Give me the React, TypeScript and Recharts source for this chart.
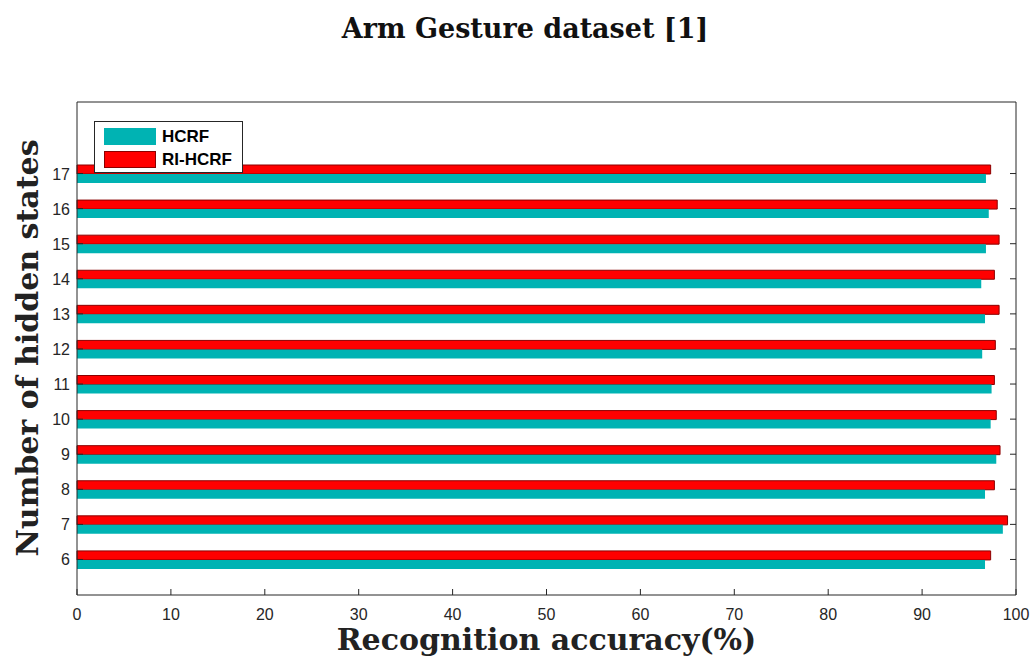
import React from 'react';
import { BarChart, Bar, XAxis, YAxis } from 'recharts';

// hidden states (bottom to top as in the figure)
const states = [6, 7, 8, 9, 10, 11, 12, 13, 14, 15, 16, 17];
const hcrf = [96.7, 98.6, 96.7, 97.9, 97.3, 97.4, 96.4, 96.7, 96.3, 96.8, 97.1, 96.8];
const riHcrf = [97.3, 99.1, 97.7, 98.3, 97.9, 97.7, 97.8, 98.2, 97.7, 98.2, 98.0, 97.3];
const xTicks = [0, 10, 20, 30, 40, 50, 60, 70, 80, 90, 100];

const TEAL = '#00B3B3';
const RED = '#FF0000';
const AXIS = '#262626';
const SANS = '"Liberation Sans", Arial, sans-serif';
const SERIF = '"DejaVu Serif", serif';

// first row in vertical layout is drawn at the top, so 17 goes first
const data = states
  .map((s, i) => ({ n: String(s), hcrf: hcrf[i], ri: riHcrf[i] }))
  .reverse();

// matlab style ticks: short marks pointing into the plot box
const BottomTick = (p: any) => (
  <g>
    <line x1={p.x} y1={p.y} x2={p.x} y2={p.y - 6} stroke={AXIS} />
    <text x={p.x} y={p.y + 25} textAnchor="middle" fontSize={16} fontFamily={SANS} fill={AXIS}>
      {p.payload.value}
    </text>
  </g>
);
const TopTick = (p: any) => <line x1={p.x} y1={p.y} x2={p.x} y2={p.y + 6} stroke={AXIS} />;
const LeftTick = (p: any) => (
  <g>
    <line x1={p.x} y1={p.y} x2={p.x + 6} y2={p.y} stroke={AXIS} />
    <text x={p.x - 7} y={p.y + 6} textAnchor="end" fontSize={16} fontFamily={SANS} fill={AXIS}>
      {p.payload.value}
    </text>
  </g>
);
const RightTick = (p: any) => <line x1={p.x} y1={p.y} x2={p.x - 6} y2={p.y} stroke={AXIS} />;

function LegendBox() {
  const item = (color: string, border: string, text: string) => (
    <div style={{ display: 'flex', alignItems: 'center', height: 23 }}>
      <div style={{ width: 52, height: 17, background: color, border: `1px solid ${border}`, boxSizing: 'border-box' }} />
      <span style={{ marginLeft: 6, fontSize: 17, fontWeight: 'bold', fontFamily: SANS, color: '#000' }}>{text}</span>
    </div>
  );
  return (
    <div style={{ position: 'absolute', left: 94, top: 121, width: 149, height: 52, border: `1px solid ${AXIS}`, background: '#fff', boxSizing: 'border-box', padding: '3px 0 0 9px' }}>
      {item(TEAL, TEAL, 'HCRF')}
      {item(RED, '#8B0000', 'RI-HCRF')}
    </div>
  );
}

export default function App() {
  return (
    <div style={{ position: 'absolute', left: 0, top: 0, width: 1033, height: 662, background: '#fff' }}>
      <div style={{ position: 'absolute', left: 0, width: 1050, top: 15, lineHeight: 1, textAlign: 'center', fontFamily: SERIF, fontWeight: 'bold', fontSize: 27, color: '#111' }}>
        Arm Gesture dataset [1]
      </div>
      <BarChart
        width={1033}
        height={662}
        data={data}
        layout="vertical"
        barSize={9}
        barGap={0}
        barCategoryGap={0}
        margin={{ top: 101, right: 16, left: 37, bottom: 37 }}
      >
        <XAxis
          type="number"
          domain={[0, 100]}
          ticks={xTicks}
          height={30}
          tick={BottomTick}
          tickLine={false}
          tickSize={0}
          tickMargin={0}
          axisLine={{ stroke: AXIS }}
          interval={0}
        />
        <XAxis
          xAxisId="top"
          orientation="top"
          type="number"
          domain={[0, 100]}
          ticks={xTicks}
          height={1}
          tick={TopTick}
          tickLine={false}
          tickSize={0}
          tickMargin={0}
          axisLine={{ stroke: AXIS }}
          interval={0}
        />
        <YAxis
          type="category"
          dataKey="n"
          width={40}
          padding={{ top: 54, bottom: 18 }}
          tick={LeftTick}
          tickLine={false}
          tickSize={0}
          tickMargin={0}
          axisLine={{ stroke: AXIS }}
          interval={0}
        />
        <YAxis
          yAxisId="right"
          orientation="right"
          type="category"
          dataKey="n"
          width={1}
          padding={{ top: 54, bottom: 18 }}
          tick={RightTick}
          tickLine={false}
          tickSize={0}
          tickMargin={0}
          axisLine={{ stroke: AXIS }}
          interval={0}
        />
        <Bar dataKey="ri" name="RI-HCRF" fill={RED} stroke="#8B0000" strokeWidth={1} isAnimationActive={false} />
        <Bar dataKey="hcrf" name="HCRF" fill={TEAL} isAnimationActive={false} />
      </BarChart>
      <LegendBox />
      <div style={{ position: 'absolute', left: 0, width: 1093, top: 625, lineHeight: 1, textAlign: 'center', fontFamily: SERIF, fontWeight: 'bold', fontSize: 30, color: '#222' }}>
        Recognition accuracy(%)
      </div>
      <div
        style={{
          position: 'absolute',
          left: 28,
          top: 348,
          lineHeight: 1,
          transform: 'translate(-50%, -50%) rotate(-90deg)',
          whiteSpace: 'nowrap',
          fontFamily: SERIF,
          fontWeight: 'bold',
          fontSize: 30,
          color: '#222',
        }}
      >
        Number of hidden states
      </div>
    </div>
  );
}
